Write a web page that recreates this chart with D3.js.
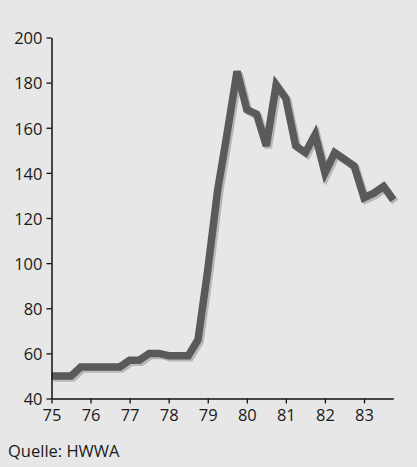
<!DOCTYPE html>
<html><head><meta charset="utf-8">
<script src="https://cdn.jsdelivr.net/npm/d3@7"></script>
<style>
html,body{margin:0;padding:0;background:#e7e7e7;}
svg{display:block;font-family:"Open Sans",sans-serif;}
</style></head>
<body><svg id="c" width="417" height="467"></svg>
<script>
// quarterly values (decimal years, 75 = 1975)
const times = [75.0,75.25,75.5,75.75,76.0,76.25,76.5,76.75,77.0,77.25,77.5,77.75,78.0,78.25,78.5,78.75,
  79.0,79.25,79.5,79.75,80.0,80.25,80.5,80.75,81.0,81.25,81.5,81.75,82.0,82.25,82.5,82.75,83.0,83.25,83.5,83.75];
const values = [50,50,50,54,54,54,54,54,57,57,60,60,59,59,59,66,
  97,132,158,185,168,166,152,179,173,152,149,157,140,149,146,143,129,131,134,128];
const xTicks = [75,76,77,78,79,80,81,82,83];
const yTicks = [40,60,80,100,120,140,160,180,200];
const source = "Quelle: HWWA";

const svg = d3.select("#c");
svg.append("rect").attr("width",417).attr("height",467).attr("fill","#e7e7e7");

const x = d3.scaleLinear().domain([75,83.75]).range([51.5,393.3]);
const y = d3.scaleLinear().domain([40,200]).range([398.5,37.5]);

const data = times.map((t,i)=>({t, v: values[i]}));
const line = d3.line().x(d=>x(d.t)).y(d=>y(d.v));

// shadow
svg.append("path").datum(data).attr("d",line)
  .attr("transform","translate(2,2)")
  .attr("fill","none").attr("stroke","#b7b7b7").attr("stroke-width",7.5)
  .attr("stroke-linejoin","miter");
svg.append("path").datum(data).attr("d",line)
  .attr("fill","none").attr("stroke","#5a5a5a").attr("stroke-width",7.5)
  .attr("stroke-linejoin","miter");

const yAxis = svg.append("g").attr("transform","translate(51.5,0)")
  .call(d3.axisLeft(y).tickValues(yTicks).tickSize(5).tickPadding(4).tickSizeOuter(0));
const xAxis = svg.append("g").attr("transform","translate(0,398.5)")
  .call(d3.axisBottom(x).tickValues(xTicks).tickSize(5).tickPadding(6).tickSizeOuter(0));

[yAxis,xAxis].forEach(g=>{
  g.select(".domain").attr("stroke","#111").attr("stroke-width",1.5);
  g.selectAll(".tick line").attr("stroke","#111").attr("stroke-width",1.3);
  g.selectAll("text").attr("fill","#1a1a1a").style("font-size","16.5px").style("font-family","'Open Sans',sans-serif");
});
yAxis.selectAll("text").attr("dy","0.38em");

svg.append("text").attr("x",8).attr("y",457).attr("fill","#1a1a1a")
  .style("font-size","16.5px").text(source);
</script></body></html>
